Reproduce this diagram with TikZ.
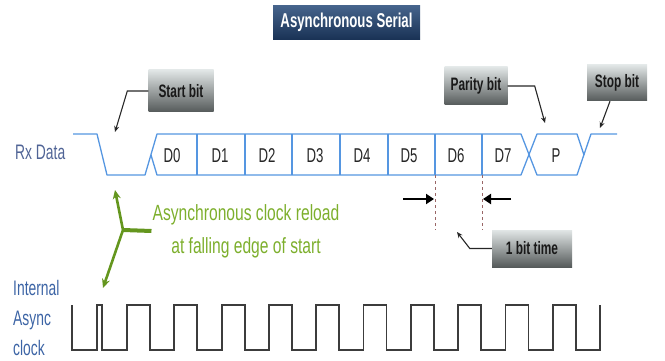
\documentclass[tikz,border=0pt]{standalone}
\usepackage{fontspec}
\setmainfont{Liberation Sans}
\newfontfamily\nf{Liberation Sans}[FakeStretch=0.66]
\newfontfamily\gf{Liberation Sans}[FakeStretch=0.71]
\usetikzlibrary{arrows.meta}
\definecolor{wave}{RGB}{85,150,225}
\definecolor{rxlab}{RGB}{80,100,150}
\definecolor{clklab}{RGB}{60,100,165}
\definecolor{garrow}{RGB}{100,150,30}
\definecolor{gtext}{RGB}{125,175,45}
\definecolor{boxtop}{RGB}{225,230,230}
\definecolor{boxbot}{RGB}{85,90,90}
\definecolor{ttop}{RGB}{70,100,140}
\definecolor{tbot}{RGB}{25,50,85}
\definecolor{clk}{RGB}{60,60,60}
\begin{document}
\begin{tikzpicture}[x=1pt,y=-1pt,
  callbox/.style={top color=boxtop,bottom color=boxbot,draw=none,inner sep=0pt,
    font=\nf\bfseries\fontsize{18}{18}\selectfont,text=black!90},
  titlebox/.style={top color=ttop,bottom color=tbot,draw=none,inner sep=0pt,
    font=\nf\bfseries\fontsize{20}{20}\selectfont,text=white},
  callout/.style={draw=black!85,line width=1.1pt,-{Stealth[length=6pt,width=5pt]}},
  bitlab/.style={font=\nf\fontsize{20}{20}\selectfont,text=black!85,inner sep=0pt},
  sidelab/.style={font=\nf\fontsize{21}{30}\selectfont,inner sep=0pt,anchor=west},
  wavestyle/.style={draw=wave,line width=1.3pt,line join=round},
  garr/.style={draw=garrow,line width=2.6pt,-{Stealth[length=9pt,width=8pt]}},
  widtharr/.style={draw=black,line width=2.6pt,-{Triangle[length=8pt,width=10pt]}},
  dashline/.style={draw=gray!80!red,line width=1pt,dash pattern=on 3pt off 3pt}
]
\useasboundingbox (0,0) rectangle (665,361);

% title
\node[titlebox,minimum width=147pt,minimum height=34pt] (title) at (346.5,22.5) {Asynchronous Serial};

% labels
\node[sidelab,text=rxlab] (rx) at (15,152) {Rx Data};
\node[sidelab,text=clklab,align=left] (clkl) at (13,318) {Internal\\Async\\clock};

% Rx waveform
\draw[wavestyle] (73,134) -- (97,134) -- (107,175) -- (145,175) -- (157,134) -- (521,134)
  -- (537,175) -- (577,175) -- (591,134) -- (617,134);
\draw[wavestyle] (151,155) -- (157,175) -- (521,175) -- (537,134) -- (577,134) -- (584,155);
\foreach \x in {197,245,292,340,388,435,482}
  \draw[wavestyle] (\x,134) -- (\x,175);

% bit labels
\node[bitlab] (d0) at (172,156) {D0};
\node[bitlab] (d1) at (220,156) {D1};
\node[bitlab] (d2) at (267,156) {D2};
\node[bitlab] (d3) at (315,156) {D3};
\node[bitlab] (d4) at (362,156) {D4};
\node[bitlab] (d5) at (409,156) {D5};
\node[bitlab] (d6) at (456,156) {D6};
\node[bitlab] (d7) at (503,156) {D7};
\node[bitlab] (p) at (556,156) {P};

% callout boxes
\node[callbox,minimum width=65pt,minimum height=42pt] (start) at (181,91) {Start bit};
\node[callbox,minimum width=63pt,minimum height=38pt] (parity) at (476,86) {Parity bit};
\node[callbox,minimum width=60pt,minimum height=36pt] (stop) at (617,83) {Stop bit};
\node[callbox,minimum width=80pt,minimum height=37pt] (onebit) at (532,248.5) {1 bit time};

\coordinate (starttip) at (115,132);
\coordinate (paritytip) at (545,123);
\coordinate (stoptip) at (600,128);
\coordinate (onebittip) at (457,232);
\draw[callout] (start.west) -- ++(-21,0) -- (starttip);
\draw[callout] (parity.east) -- ++(27,0) -- (paritytip);
\draw[callout] ([xshift=-7pt]stop.south) -- (stoptip);
\draw[callout] (onebit.west) -- ++(-22,0) -- (onebittip);

% one bit time markers
\coordinate (da) at (435,175); \coordinate (db) at (435,230);
\coordinate (dc) at (482,175); \coordinate (dd) at (482,230);
\draw[dashline] (da) -- (db);
\draw[dashline] (dc) -- (dd);
\coordinate (wa) at (403,199); \coordinate (wb) at (434,199);
\coordinate (wc) at (511,199); \coordinate (wd) at (483,199);
\draw[widtharr] (wa) -- (wb);
\draw[widtharr] (wc) -- (wd);

% green annotation
\node[font=\gf\fontsize{22}{33}\selectfont,text=gtext,align=center,inner sep=1pt] (gt) at (246,231)
  {Asynchronous clock reload\\at falling edge of start};
\coordinate (jn) at (123,230);
\coordinate (gup) at (115,190);
\coordinate (gdn) at (103,288);
\draw[draw=garrow,line width=4pt] (jn) -- (gt.west);
\draw[garr] (jn) -- (gup);
\draw[garr] (jn) -- (gdn);

% internal clock
\draw[draw=clk,line width=1.8pt,line join=miter]
  (72,305) -- (72,350) -- (97,350) -- (97,305) -- (102,305) -- (102,350)
  \foreach \i in {0,...,9}{ -- ({127+47.3*\i},350) -- ({127+47.3*\i},305)
     -- ({150+47.3*\i},305) -- ({150+47.3*\i},350)}
  -- (600,350) -- (600,305);
\end{tikzpicture}
\end{document}
